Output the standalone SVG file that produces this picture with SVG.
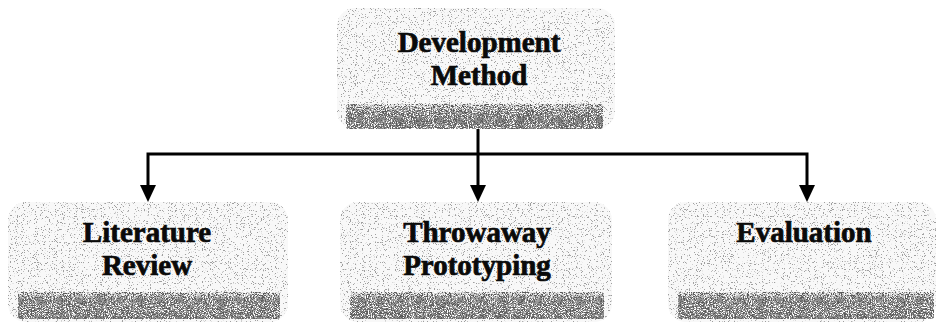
<svg xmlns="http://www.w3.org/2000/svg" width="938" height="322" viewBox="0 0 938 322">
  <defs>
    <filter id="speckle" x="0" y="0" width="100%" height="100%">
      <feTurbulence type="fractalNoise" baseFrequency="0.85" numOctaves="2" seed="7" result="n"/>
      <feColorMatrix in="n" type="matrix" values="0 0 0 0 0.35  0 0 0 0 0.35  0 0 0 0 0.35  14 0 0 0 -8.6" result="d"/>
      <feComposite in="d" in2="SourceAlpha" operator="in" result="dd"/>
      <feMerge><feMergeNode in="SourceGraphic"/><feMergeNode in="dd"/></feMerge>
    </filter>
    <filter id="speckleDark" x="0" y="0" width="100%" height="100%">
      <feTurbulence type="fractalNoise" baseFrequency="0.95" numOctaves="2" seed="11" result="n"/>
      <feColorMatrix in="n" type="matrix" values="0 0 0 0 0.1  0 0 0 0 0.1  0 0 0 0 0.1  10 0 0 0 -4.6" result="d"/>
      <feComposite in="d" in2="SourceAlpha" operator="in" result="dd"/>
      <feTurbulence type="fractalNoise" baseFrequency="0.95" numOctaves="2" seed="23" result="n2"/>
      <feColorMatrix in="n2" type="matrix" values="0 0 0 0 1  0 0 0 0 1  0 0 0 0 1  10 0 0 0 -5.6" result="w"/>
      <feComposite in="w" in2="SourceAlpha" operator="in" result="ww"/>
      <feMerge><feMergeNode in="SourceGraphic"/><feMergeNode in="dd"/><feMergeNode in="ww"/></feMerge>
    </filter>
    <linearGradient id="band" x1="0" y1="0" x2="0" y2="1">
      <stop offset="0" stop-color="#e6e6e6"/>
      <stop offset="0.3" stop-color="#9a9a9a"/>
      <stop offset="1" stop-color="#8c8c8c"/>
    </linearGradient>
    <marker id="arrow" viewBox="0 0 17 16" refX="0" refY="8" markerWidth="17" markerHeight="16" markerUnits="userSpaceOnUse" orient="auto">
      <path d="M0,0 L17,8 L0,16 z" fill="#000"/>
    </marker>
  </defs>
  <style>
    .box { fill: #f8f8f8; filter: url(#speckle); }
    .band { fill: url(#band); filter: url(#speckleDark); }
    .label { font-family: "Liberation Serif", "Times New Roman", serif; font-weight: bold; font-size: 29px; fill: #0a0a0a; stroke: #0a0a0a; stroke-width: 0.7; text-anchor: middle; }
    .conn { fill: none; stroke: #000; stroke-width: 3; stroke-linejoin: miter; marker-end: url(#arrow); }
  </style>
  <rect width="938" height="322" fill="#ffffff"/>

  <g id="node-development-method">
    <rect class="box" x="337" y="8" width="278" height="121" rx="18"/>
    <rect class="band" x="346" y="104" width="257" height="25" rx="3"/>
    <text class="label" x="479" y="52">Development</text>
    <text class="label" x="479" y="85">Method</text>
  </g>

  <g id="node-literature-review">
    <rect class="box" x="8" y="202" width="280" height="120" rx="18"/>
    <rect class="band" x="18" y="292" width="262" height="27" rx="3"/>
    <text class="label" x="147" y="242">Literature</text>
    <text class="label" x="147" y="275">Review</text>
  </g>

  <g id="node-throwaway-prototyping">
    <rect class="box" x="340" y="202" width="272" height="120" rx="18"/>
    <rect class="band" x="350" y="292" width="254" height="27" rx="3"/>
    <text class="label" x="477" y="242">Throwaway</text>
    <text class="label" x="477" y="275">Prototyping</text>
  </g>

  <g id="node-evaluation">
    <rect class="box" x="668" y="202" width="268" height="120" rx="18"/>
    <rect class="band" x="678" y="292" width="256" height="27" rx="3"/>
    <text class="label" x="804" y="242">Evaluation</text>
  </g>

  <g id="connectors">
    <path class="conn" d="M478,129 V185"/>
    <path class="conn" d="M478,154 H148 V185"/>
    <path class="conn" d="M478,154 H807 V185"/>
  </g>
</svg>
